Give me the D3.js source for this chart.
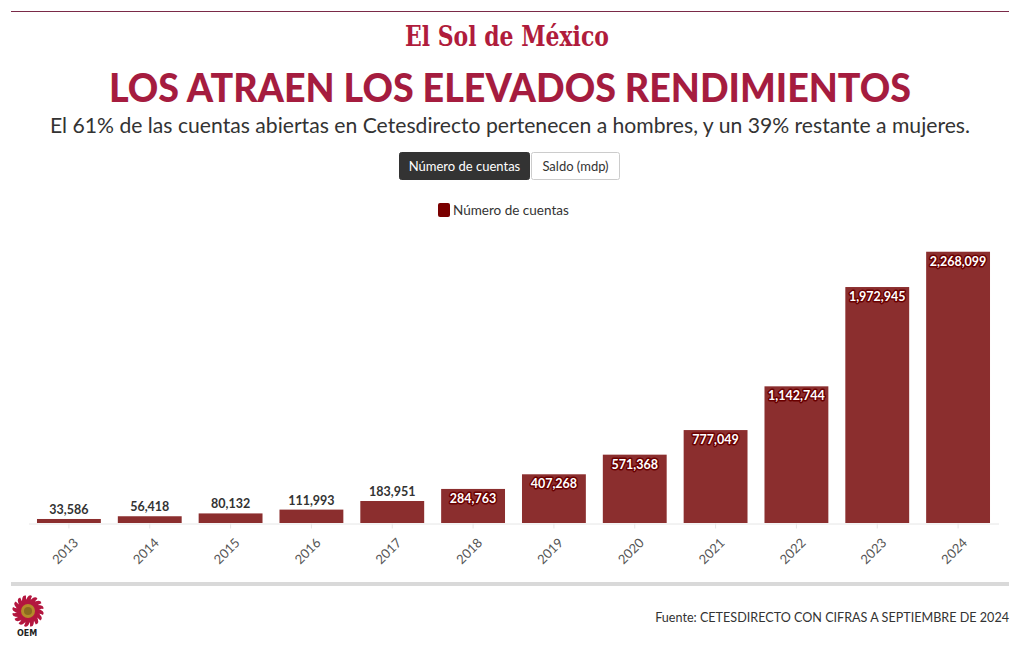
<!DOCTYPE html>
<html><head><meta charset="utf-8">
<script src="https://cdn.jsdelivr.net/npm/d3@7"></script>
<style>
body{margin:0;background:#fff;}
svg{display:block;font-family:"Source Sans Pro","Lato","Noto Sans",sans-serif;}
</style></head>
<body><svg id="c" width="1020" height="650"></svg>
<script>
const years = ["2013","2014","2015","2016","2017","2018","2019","2020","2021","2022","2023","2024"];
const cuentas = [33586,56418,80132,111993,183951,284763,407268,571368,777049,1142744,1972945,2268099];
const yMax = 2500000;
const seriesName = "Número de cuentas";
const buttons = ["Número de cuentas","Saldo (mdp)"];

const svg = d3.select("#c");
const red = "#8b2e2e";
const titleRed = "#a51c3f";

// top rule
svg.append("line").attr("x1",11).attr("x2",1009).attr("y1",11.5).attr("y2",11.5).attr("stroke","#7a2a48").attr("stroke-width",1);
// masthead
svg.append("text").attr("x",507).attr("y",46).attr("text-anchor","middle")
  .attr("font-family","'DejaVu Serif','Liberation Serif',serif").attr("font-weight","bold")
  .attr("font-size",27).attr("fill","#b01c3c").attr("textLength",204).attr("lengthAdjust","spacingAndGlyphs")
  .text("El Sol de México");
// title
svg.append("text").attr("x",510).attr("y",102).attr("text-anchor","middle")
  .attr("font-family","Lato,sans-serif").attr("font-weight",900).attr("font-size",40).attr("fill",titleRed)
  .attr("textLength",802).attr("lengthAdjust","spacingAndGlyphs")
  .text("LOS ATRAEN LOS ELEVADOS RENDIMIENTOS");
// subtitle
svg.append("text").attr("x",510).attr("y",133).attr("text-anchor","middle")
  .attr("font-family","Lato,sans-serif").attr("font-size",20.5).attr("fill","#333")
  .attr("textLength",920).attr("lengthAdjust","spacingAndGlyphs")
  .text("El 61% de las cuentas abiertas en Cetesdirecto pertenecen a hombres, y un 39% restante a mujeres.");

// buttons
const bx = [399,531], bw=[130,88];
buttons.forEach((b,i)=>{
  svg.append("rect").attr("x",bx[i]+0.5).attr("y",152.5).attr("width",bw[i]).attr("height",27).attr("rx",2)
    .attr("fill",i===0?"#333":"#fff").attr("stroke",i===0?"#333":"#ccc");
  svg.append("text").attr("x",bx[i]+bw[i]/2+0.5).attr("y",171).attr("text-anchor","middle")
    .attr("font-size",13).attr("fill",i===0?"#fff":"#333").text(b);
});

// legend
svg.append("rect").attr("x",438).attr("y",203).attr("width",12).attr("height",14).attr("rx",2).attr("fill","#7a0000");
svg.append("text").attr("x",453).attr("y",215).attr("font-size",13.5).attr("fill","#333").text(seriesName);

// scales
const x = d3.scaleBand().domain(years).range([28.5,998.5]).paddingInner(0.21).paddingOuter(0.105);
const y = d3.scaleLinear().domain([0,yMax]).range([523,224]);

const g = svg.append("g");
g.selectAll("rect.bar").data(cuentas).join("rect").attr("class","bar")
  .attr("x",(d,i)=>x(years[i])).attr("width",x.bandwidth())
  .attr("y",d=>y(d)).attr("height",d=>y(0)-y(d)).attr("fill",red);

// axis
const ax = svg.append("g").attr("transform","translate(0,523.5)")
  .call(d3.axisBottom(x).tickSize(5).tickSizeOuter(0));
ax.select(".domain").attr("stroke","#e6e6e6");
ax.selectAll(".tick line").attr("stroke","#e6e6e6");
ax.selectAll(".tick text").attr("font-family","Lato,'Noto Sans',sans-serif").attr("font-size",13).attr("fill","#555")
  .attr("text-anchor","end").attr("transform","translate(-2,8) rotate(-45)").attr("dy","0.7em").attr("dx","0");

// labels
const fmt = d3.format(",");
const thr = 250000;
g.selectAll("text.lab").data(cuentas).join("text").attr("class","lab")
  .attr("x",(d,i)=>x(years[i])+x.bandwidth()/2)
  .attr("y",d=> d>thr ? y(d)+14 : y(d)-5)
  .attr("text-anchor","middle").attr("font-size",12.5).attr("font-weight",700)
  .attr("font-family","Lato,'Noto Sans',sans-serif")
  .attr("fill",d=>d>thr?"#fff":"#333")
  .attr("stroke",d=>d>thr?"#6a0000":"none").attr("stroke-width",3).attr("stroke-linejoin","round")
  .attr("paint-order","stroke")
  .text(d=>fmt(d));

// bottom bar
svg.append("rect").attr("x",11).attr("y",582).attr("width",998).attr("height",4).attr("fill","#d9d9d9");

// logo
const lg = svg.append("g").attr("transform","translate(28,611)");
const rays = d3.range(16);
lg.selectAll("path").data(rays).join("path")
  .attr("d","M-3,-8 Q0,-18 4,-15 Q2,-12 3,-8 Z").attr("fill","#b3173f")
  .attr("transform",d=>`rotate(${d*22.5})`);
lg.append("circle").attr("r",9).attr("fill","#b3173f");
lg.append("circle").attr("r",7).attr("fill","#b58a2a");
lg.append("circle").attr("r",4).attr("fill","#8a6a1f");
svg.append("text").attr("x",27).attr("y",636).attr("text-anchor","middle").attr("font-size",8).attr("font-weight",700)
  .attr("font-family","'DejaVu Sans',sans-serif").attr("fill","#222").text("OEM");

// source
svg.append("text").attr("x",1009).attr("y",622).attr("text-anchor","end").attr("font-size",12.6).attr("fill","#333")
  .attr("font-family","Lato,'Noto Sans',sans-serif")
  .text("Fuente: CETESDIRECTO CON CIFRAS A SEPTIEMBRE DE 2024");
</script></body></html>
